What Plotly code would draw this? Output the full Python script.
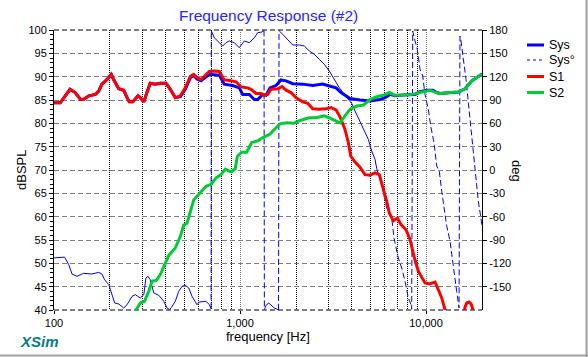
import math
import plotly.graph_objects as go

# ---------------- data ----------------
s1_freq = [100, 108, 115, 122, 130, 139, 144, 154, 167, 174, 181, 193, 203, 209, 223, 237, 247, 254, 265, 283,
           291, 304, 316, 329, 350, 373, 400, 422, 449, 478, 508, 541, 564, 587, 617, 643, 684, 728, 774, 823,
           876, 952, 1012, 1100, 1146, 1219, 1297, 1351, 1409, 1468, 1595, 1682, 1768, 1880, 2000, 2174, 2312,
           2460, 2669, 2900, 3085, 3282, 3448, 3668, 3823, 3937, 4153, 4418, 4699, 5000, 5318, 5610, 5895, 6149,
           6349, 6672, 7010, 7337, 7806, 8204, 8618, 9090, 9876, 10420, 11180, 11650, 12150, 12540, 12970, 14500,
           15800, 16210, 16560, 17030, 17460, 17740, 18100, 20000]
s1_db = [84.4, 84.4, 85.9, 87.3, 86.6, 85.1, 85.1, 85.9, 86.2, 86.9, 88.4, 89.4, 90.5, 89.4, 87.4, 87.1, 85.5, 84.6,
         84.6, 85.9, 85.5, 84.6, 86.6, 88.6, 88.4, 88.6, 88.6, 87.3, 85.5, 85.9, 87.6, 90.1, 90.5, 89.8, 89.4, 90.1,
         91.1, 91.2, 91.1, 89.3, 89.2, 88.9, 87.8, 87.6, 87.3, 86.4, 86.4, 86.0, 86.2, 87.3, 87.4, 87.9, 87.1, 86.6,
         85.5, 84.6, 84.3, 83.1, 83.0, 83.1, 83.4, 82.9, 81.4, 78.7, 75.9, 73.0, 71.7, 70.6, 69.0, 68.9, 69.4, 69.0,
         66.1, 63.3, 60.8, 59.1, 59.7, 58.3, 57.2, 55.1, 51.5, 48.3, 45.8, 45.6, 46.0, 44.4, 42.6, 40.6, 38.5, 34.0,
         38.0, 40.6, 41.5, 41.7, 41.3, 40.6, 38.5, 34.0]

s2_freq = [262, 279, 291, 307, 323, 337, 354, 373, 397, 414, 449, 478, 498, 519, 541, 564, 587, 617, 657, 699, 743,
           790, 834, 895, 943, 967, 1021, 1086, 1156, 1254, 1335, 1450, 1543, 1641, 1783, 1935, 2102, 2359, 2562,
           2840, 3085, 3282, 3448, 3668, 3903, 4242, 4602, 5000, 5431, 5895, 6349, 6815, 7551, 8204, 9284, 10510,
           11180, 11890, 13460, 14920, 16210, 17610, 18740, 20000]
s2_db = [38.5, 40.4, 41.5, 41.9, 44.0, 46.2, 46.3, 47.6, 50.1, 51.7, 53.3, 55.8, 58.2, 58.6, 61.1, 63.6, 64.4, 65.4,
         66.5, 66.9, 68.3, 69.0, 70.2, 69.6, 70.3, 72.9, 73.8, 73.8, 75.9, 76.3, 77.0, 77.7, 78.9, 79.9, 80.1, 80.0,
         80.6, 81.2, 81.2, 81.6, 81.0, 80.5, 80.1, 81.6, 83.0, 83.7, 83.9, 85.1, 85.7, 86.0, 86.6, 86.0, 86.0, 86.1,
         86.6, 87.1, 86.7, 86.4, 86.6, 86.7, 87.4, 89.1, 89.8, 90.6]

sys_freq = [100, 108, 115, 122, 130, 139, 144, 154, 167, 174, 181, 193, 203, 209, 223, 237, 247, 254, 265, 283,
            291, 304, 316, 329, 350, 373, 400, 422, 449, 478, 508, 541, 564, 587, 617, 684, 774, 823, 913, 991,
            1034, 1122, 1194, 1245, 1324, 1380, 1450, 1561, 1661, 1768, 1920, 2174, 2460, 2784, 3021, 3282, 3491,
            3668, 3903, 4418, 5000, 5657, 6020, 6405, 6815, 7873, 8727, 9284, 10090, 10910, 11420, 11890, 13460,
            14920, 16210, 17610, 18740, 20000]
sys_db = [84.4, 84.4, 85.9, 87.3, 86.6, 85.1, 85.1, 85.9, 86.2, 86.9, 88.4, 89.4, 90.5, 89.4, 87.4, 87.1, 85.5,
          84.6, 84.6, 85.9, 85.5, 84.6, 86.6, 88.6, 88.4, 88.6, 88.6, 87.3, 85.5, 85.7, 87.3, 89.8, 90.2, 89.5,
          89.1, 90.5, 90.3, 88.4, 88.1, 87.6, 86.2, 86.2, 85.1, 85.1, 86.2, 86.0, 87.6, 88.1, 89.3, 89.1, 88.5,
          88.4, 88.1, 88.4, 88.0, 87.6, 86.6, 86.1, 85.3, 85.0, 84.8, 85.1, 85.5, 86.2, 85.9, 86.1, 86.2, 86.8,
          87.1, 87.1, 86.6, 86.4, 86.6, 86.7, 87.4, 89.1, 89.8, 90.6]

sys_phase_freq = [100, 108, 114, 120, 125, 133, 144, 160, 174, 181, 187, 197, 205, 212, 223, 237, 247, 263, 274,
                  291, 304, 312, 320, 329, 344, 366, 389, 405, 418, 427, 449, 468, 488, 508, 530, 552, 587, 604,
                  657, 684, 699, 701, 728, 774, 807, 841, 876, 932, 991, 1055, 1122, 1194, 1245, 1313, 1346, 1352,
                  1380, 1427, 1486, 1529, 1581, 1611, 1621, 1627, 1697, 1805, 1920, 2084, 2217, 2359, 2508, 2669,
                  2840, 3021, 3214, 3419, 3747, 3986, 4153, 4418, 4699, 4895, 5106, 5318, 5431, 5779, 6149, 6541,
                  6730, 7097, 7403, 7711, 8033, 8306, 8377, 8482, 8727, 8980, 9284, 9601, 9876, 10290, 10600,
                  11040, 11420, 11790, 12150, 12930, 13460, 14030, 14320, 14620, 15050, 15230, 15380, 15750,
                  16010, 16410, 16890, 17240, 17610, 17960, 18340, 18570, 19110, 19690, 20000]
sys_phase_deg = [-113, -112.3, -112, -121.7, -133.7, -136.7, -132.9, -133.7, -131.6, -133.7, -141, -147.4, -159.4,
                 -171, -172.3, -177.4, -173.2, -162.4, -160.3, -164.6, -160.3, -138.9, -136.7, -141, -158.1,
                 -161.1, -168.8, -177.4, -179.5, -177, -168.8, -156, -149.6, -148.3, -151.7, -162.4, -173.2,
                 -169.7, -168.8, -173.2, -178.5, 178.7, 170, 163.7, 159.4, 163.7, 165.9, 163.7, 157.3, 165.9,
                 163.7, 170, 176.6, 177.4, 179.5, -179.5, -174, -171, -175, -177.4, -179, -179.9, 179.5, 178.7,
                 174.5, 168, 160.7, 160.7, 159.4, 153, 148.8, 142.3, 135.9, 127.3, 116.6, 105.8, 93, 85.7, 75.9,
                 63, 50.1, 39.5, 24.4, 13.8, 2, -18.9, -48.9, -61.7, -87.4, -113.1, -126, -143.1, -164.6, -173.2,
                 -179, 178.7, 165.9, 155.2, 129.5, 120.9, 97.3, 78, 56.6, 35.1, 5.1, -1.7, -27.4, -72.4, -91.7,
                 -121.7, -134.6, -156, -177.4, 172, 168, 150.8, 135.9, 116.6, 86.6, 65.2, 48, 26.6, 5.1, -10.3,
                 -40.2, -60, -72]

db_ticks = [40, 45, 50, 55, 60, 65, 70, 75, 80, 85, 90, 95, 100]
deg_ticks = [-150, -120, -90, -60, -30, 0, 30, 60, 90, 120, 150, 180]
freq_ticks = [100, 1000, 10000]
freq_tick_labels = ["100", "1,000", "10,000"]
freq_minor = [200, 300, 400, 500, 600, 700, 800, 900, 2000, 3000, 4000, 5000, 6000, 7000, 8000, 9000]

# ---------------- style ----------------
W, H = 588, 357
ML, MR, MT, MB = 54, 106, 30, 47
FONT = "Liberation Sans, Arial, sans-serif"
BLUE, RED, GREEN = "#0000FF", "#FF0000", "#00CC33"
GRID = "#808080"
DASH_FROM_HZ = 5431  # where the phase trace starts to show its dash pattern


def pxx(px):
    return (px - ML) / (W - ML - MR)


def pxy(py):
    return (H - MB - py) / (H - MT - MB)


# split the phase curve into visually solid and dashed pieces
solid_x, solid_y, dash_x, dash_y = [], [], [], []
for i in range(len(sys_phase_freq) - 1):
    f0, f1 = sys_phase_freq[i], sys_phase_freq[i + 1]
    p0, p1 = sys_phase_deg[i], sys_phase_deg[i + 1]
    dashed = abs(p1 - p0) > 180 or f0 >= DASH_FROM_HZ
    xs, ys = (dash_x, dash_y) if dashed else (solid_x, solid_y)
    if not xs or xs[-1] != f0:
        if xs:
            xs.append(None)
            ys.append(None)
        xs.append(f0)
        ys.append(p0)
    xs.append(f1)
    ys.append(p1)

fig = go.Figure()
fig.add_trace(go.Scatter(x=solid_x, y=solid_y, mode="lines", yaxis="y", name="Sys°",
                         line=dict(color=BLUE, width=1), showlegend=False, hoverinfo="skip"))
fig.add_trace(go.Scatter(x=dash_x, y=dash_y, mode="lines", yaxis="y", name="Sys°",
                         line=dict(color=BLUE, width=1, dash="6px,3px"), showlegend=False))
fig.add_trace(go.Scatter(x=sys_freq, y=sys_db, mode="lines", yaxis="y2", name="Sys",
                         line=dict(color=BLUE, width=3), showlegend=False))
fig.add_trace(go.Scatter(x=s1_freq, y=s1_db, mode="lines", yaxis="y2", name="S1",
                         line=dict(color=RED, width=3), showlegend=False))
fig.add_trace(go.Scatter(x=s2_freq, y=s2_db, mode="lines", yaxis="y2", name="S2",
                         line=dict(color=GREEN, width=3), showlegend=False))

shapes = [
    # dashed black frame lines top and bottom
    dict(type="line", xref="paper", yref="paper", x0=0, x1=1, y0=1, y1=1,
         line=dict(color="black", width=1, dash="5px,3px"), layer="between"),
    dict(type="line", xref="paper", yref="paper", x0=0, x1=1, y0=0, y1=0,
         line=dict(color="black", width=1, dash="5px,3px"), layer="between"),
    # window edge
    dict(type="line", xref="paper", yref="paper", x0=pxx(0), x1=pxx(588), y0=pxy(355.5), y1=pxy(355.5),
         line=dict(color="#A0A0A0", width=2)),
    dict(type="line", xref="paper", yref="paper", x0=pxx(586.5), x1=pxx(586.5), y0=pxy(0), y1=pxy(357),
         line=dict(color="#A0A0A0", width=2)),
]

annotations = [
    dict(text="Frequency Response (#2)", x=pxx(268), y=pxy(16), font=dict(size=15.5, color="#2626FF")),
    dict(text="dBSPL", x=pxx(21), y=pxy(170), textangle=-90, font=dict(size=13, color="black")),
    dict(text="deg", x=pxx(517), y=pxy(171), textangle=90, font=dict(size=13, color="black")),
    dict(text="frequency [Hz]", x=pxx(268), y=pxy(336), font=dict(size=13, color="black")),
    dict(text="<b><i>XSim</i></b>", x=pxx(39), y=pxy(341), font=dict(size=15, color="#008080")),
]

legend_items = [("Sys", BLUE, 3, "solid", 45), ("Sys°", BLUE, 1, "3px,3px", 60),
                ("S1", RED, 3, "solid", 76.5), ("S2", GREEN, 3, "solid", 92.5)]
for name, col, wid, dsh, yy in legend_items:
    shapes.append(dict(type="line", xref="paper", yref="paper", x0=pxx(527), x1=pxx(544),
                       y0=pxy(yy), y1=pxy(yy), line=dict(color=col, width=wid, dash=dsh)))
    annotations.append(dict(text=name, x=pxx(547), y=pxy(yy), xanchor="left",
                            font=dict(size=12.5, color="black")))

for a in annotations:
    a.update(xref="paper", yref="paper", showarrow=False)
    a.setdefault("xanchor", "center")
    a.setdefault("yanchor", "middle")

fig.update_layout(
    width=W, height=H,
    margin=dict(l=ML, r=MR, t=MT, b=MB, pad=0),
    paper_bgcolor="white", plot_bgcolor="white",
    font=dict(family=FONT, size=11, color="black"),
    showlegend=False,
    xaxis=dict(type="log", range=[2, math.log10(20000)], tickmode="array", tickvals=freq_ticks,
               ticktext=freq_tick_labels, showgrid=True, gridcolor=GRID, griddash="1px,1px", gridwidth=1,
               ticks="outside", ticklen=3, tickcolor="black", showline=False, zeroline=False,
               tickfont=dict(size=11),
               minor=dict(tickmode="array", tickvals=freq_minor, showgrid=True, gridcolor="black",
                          griddash="1px,1px", gridwidth=1)),
    yaxis=dict(side="right", range=[-180, 180], tickmode="array", tickvals=deg_ticks,
               ticktext=[str(v) for v in deg_ticks],
               showgrid=True, gridcolor=GRID, griddash="5px,3px", gridwidth=1, zeroline=False,
               showline=True, linecolor="black", linewidth=1, ticks="outside", ticklen=4,
               tickcolor="black", tickfont=dict(size=11)),
    yaxis2=dict(side="left", overlaying="y", range=[40, 100], tickmode="array", tickvals=db_ticks,
                showgrid=False, zeroline=False, showline=True, linecolor="black", linewidth=1,
                ticks="outside", ticklen=4, tickcolor="black", tickfont=dict(size=11),
                minor=dict(dtick=1, ticks="outside", ticklen=3, tickcolor="black", showgrid=False)),
    shapes=shapes,
    annotations=annotations,
)

fig.write_html("out.html", config={"displayModeBar": False},
               post_script="document.body.style.margin='0px';")
